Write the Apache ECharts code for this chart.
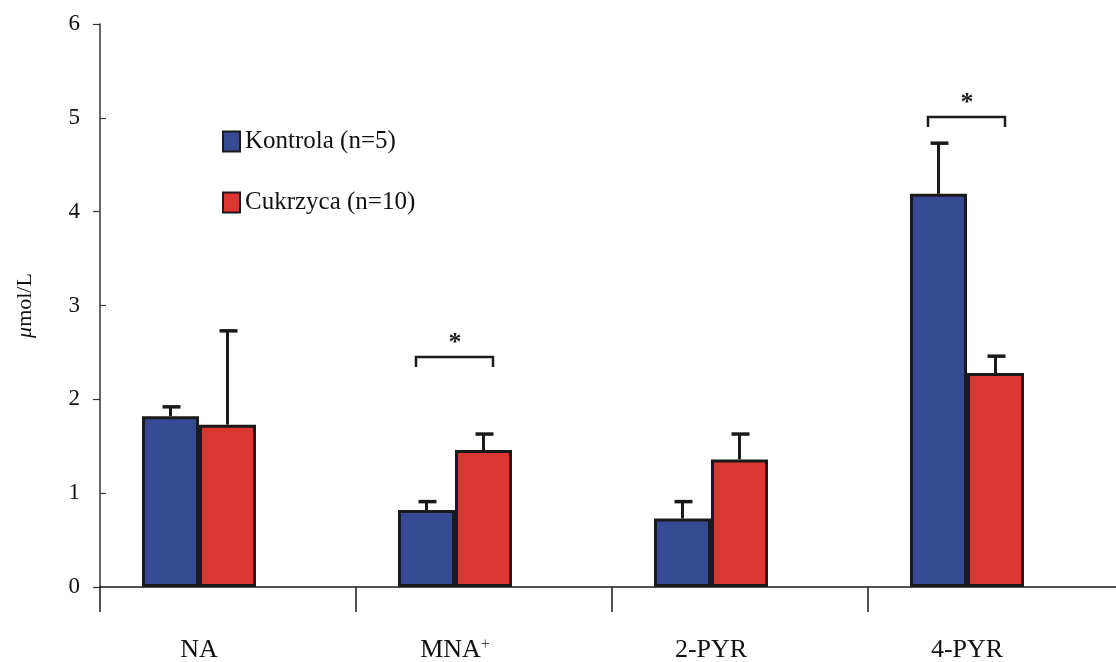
<!DOCTYPE html>
<html>
<head>
<meta charset="utf-8">
<script src="https://cdn.jsdelivr.net/npm/echarts@6/dist/echarts.min.js"></script>
<style>html,body{margin:0;padding:0;background:#fff;}#c{width:1116px;height:662px;}</style>
</head>
<body>
<div id="c"></div>
<script>
// ---- data ----
var categories = ['NA', 'MNA+', '2-PYR', '4-PYR'];
var seriesNames = ['Kontrola (n=5)', 'Cukrzyca (n=10)'];
var kontrola = [1.82, 0.82, 0.73, 4.19];
var kontrolaErr = [0.10, 0.09, 0.18, 0.54];
var cukrzyca = [1.73, 1.46, 1.36, 2.28];
var cukrzycaErr = [1.00, 0.17, 0.27, 0.18];
var yTicks = [0, 1, 2, 3, 4, 5, 6];
var sigCategories = [1, 3];       // categories with significance bracket
var sigLevels = [2.45, 5.01];     // bracket heights

// ---- styles ----
var blue = '#354a93';
var red = '#dc3632';
var ink = '#1a1a1a';
var serif = '"Liberation Serif", "Times New Roman", serif';
var gridTop = 24, gridBottom = 75;
var barW = 57;

var chart = echarts.init(document.getElementById('c'), null, {renderer: 'canvas'});

function errSeries(idx, vals, errs) {
  var data = vals.map(function (v, i) { return [i, v, v + errs[i]]; });
  return {
    type: 'custom', xAxisIndex: 0, yAxisIndex: 0, z: 1,
    data: data,
    renderItem: function (params, api) {
      var c = api.value(0);
      var lo = api.coord([c, api.value(1)]);
      var hi = api.coord([c, api.value(2)]);
      var x = lo[0] + (idx === 0 ? -barW / 2 : barW / 2);
      return {
        type: 'group',
        children: [
          {type: 'line', shape: {x1: x, y1: lo[1], x2: x, y2: hi[1]}, style: {stroke: ink, lineWidth: 3}},
          {type: 'line', shape: {x1: x - 8, y1: hi[1], x2: x + 10, y2: hi[1]}, style: {stroke: ink, lineWidth: 3.5}}
        ]
      };
    }
  };
}

var sigData = sigCategories.map(function (c, i) { return [c, sigLevels[i]]; });

var option = {
  backgroundColor: '#fff',
  animation: false,
  grid: [
    {left: 71, width: 1024, top: gridTop, bottom: gridBottom, containLabel: false, outerBoundsMode: 'none'},
    {left: 100, width: 1024, top: gridTop, bottom: gridBottom, containLabel: false, outerBoundsMode: 'none'}
  ],
  legend: {
    orient: 'vertical', left: 217, top: 124, itemGap: 36,
    itemWidth: 17, itemHeight: 20, icon: 'rect',
    textStyle: {fontFamily: serif, fontSize: 25, color: '#111', padding: [0, 0, 0, 0]},
    data: seriesNames.map(function (n) { return {name: n, itemStyle: {borderColor: ink, borderWidth: 2}}; })
  },
  xAxis: [
    {
      type: 'category', gridIndex: 0, data: categories,
      axisLine: {show: false}, axisTick: {show: false},
      axisLabel: {
        margin: 50, fontFamily: serif, fontSize: 26, color: '#111',
        formatter: function (v) {
          if (v.slice(-1) === '+') return '{c|' + v.slice(0, -1) + '}{s|+}';
          return '{b|' + v + '}';
        },
        rich: {
          b: {fontFamily: serif, fontSize: 26, color: '#111'},
          c: {fontFamily: serif, fontSize: 26, color: '#111', padding: [0, 0, 12, 0]},
          s: {fontFamily: serif, fontSize: 16, color: '#444', verticalAlign: 'top', padding: [0, 0, 22, 0]}
        }
      }
    },
    {
      type: 'value', gridIndex: 1, min: 0, max: 4, interval: 1,
      axisLine: {show: true, lineStyle: {color: ink, width: 1.5}},
      axisTick: {show: true, inside: false, length: 25, lineStyle: {color: ink, width: 1.5}},
      axisLabel: {show: false}, splitLine: {show: false}
    }
  ],
  yAxis: [
    {type: 'value', gridIndex: 0, min: 0, max: 6, interval: 1, show: false},
    {
      type: 'value', gridIndex: 1, min: 0, max: 6, interval: 1,
      name: '{i|μ}{n|mol/L}', nameLocation: 'middle', nameGap: 64, nameRotate: 90,
      nameTextStyle: {
        fontFamily: serif, fontSize: 22, color: '#111',
        rich: {
          i: {fontFamily: serif, fontSize: 22, fontStyle: 'italic', color: '#111'},
          n: {fontFamily: serif, fontSize: 22, color: '#111'}
        }
      },
      axisLine: {show: true, lineStyle: {color: '#333', width: 1.5}},
      axisTick: {show: true, inside: true, length: 6, lineStyle: {color: '#333', width: 1.2},
        customValues: [1, 3, 5]},
      axisLabel: {fontFamily: serif, fontSize: 23, color: '#111', margin: 20, customValues: yTicks},
      splitLine: {show: false}
    },
    {
      type: 'value', gridIndex: 1, min: 0, max: 6, interval: 1, position: 'left',
      axisLine: {show: false},
      axisTick: {show: true, inside: false, length: 7, lineStyle: {color: '#333', width: 1.2},
        customValues: [0, 2, 4, 6]},
      axisLabel: {show: false}, splitLine: {show: false}
    }
  ],
  series: [
    {
      name: seriesNames[0], type: 'bar', xAxisIndex: 0, yAxisIndex: 0, data: kontrola,
      barWidth: barW, barGap: '0%', z: 2,
      itemStyle: {color: blue, borderColor: ink, borderWidth: 3}
    },
    {
      name: seriesNames[1], type: 'bar', xAxisIndex: 0, yAxisIndex: 0, data: cukrzyca,
      barWidth: barW, barGap: '0%', z: 2,
      itemStyle: {color: red, borderColor: ink, borderWidth: 3}
    },
    errSeries(0, kontrola, kontrolaErr),
    errSeries(1, cukrzyca, cukrzycaErr),
    {
      type: 'custom', xAxisIndex: 0, yAxisIndex: 0, z: 3, data: sigData,
      renderItem: function (params, api) {
        var p = api.coord([api.value(0), api.value(1)]);
        var x = p[0], y = p[1];
        return {
          type: 'group',
          children: [
            {type: 'polyline', shape: {points: [[x - 39, y + 10], [x - 39, y], [x + 38, y], [x + 38, y + 10]]},
              style: {stroke: ink, lineWidth: 2.5, fill: null}},
            {type: 'text', style: {text: '*', x: x, y: y - 1, align: 'center', verticalAlign: 'bottom',
              font: 'bold 26px ' + serif, fill: ink}}
          ]
        };
      }
    }
  ]
};
chart.setOption(option);
</script>
</body>
</html>
